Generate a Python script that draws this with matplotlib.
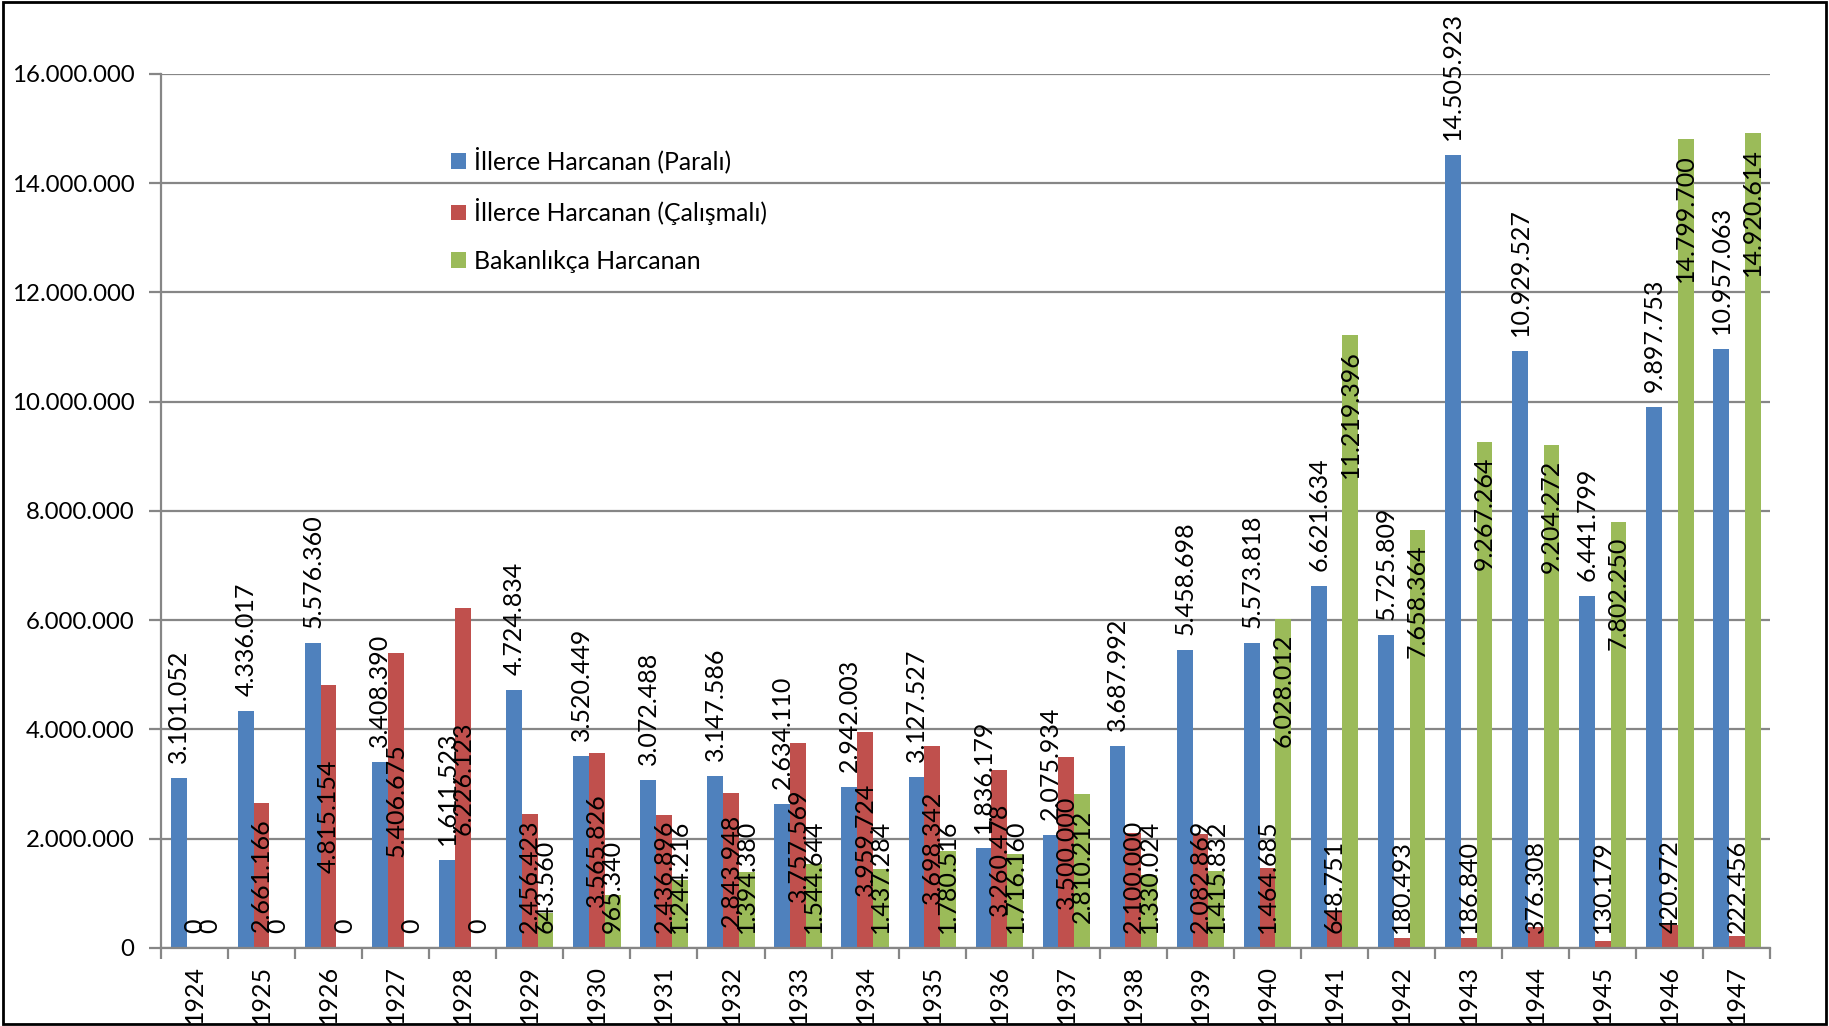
import matplotlib
matplotlib.use("Agg")
import matplotlib.pyplot as plt
import numpy as np
from matplotlib.ticker import FuncFormatter, MultipleLocator
from matplotlib.patches import Rectangle

years = ["1924", "1925", "1926", "1927", "1928", "1929", "1930", "1931", "1932", "1933",
         "1934", "1935", "1936", "1937", "1938", "1939", "1940", "1941", "1942", "1943",
         "1944", "1945", "1946", "1947"]
paralı = [3101052, 4336017, 5576360, 3408390, 1611523, 4724834, 3520449, 3072488, 3147586, 2634110,
          2942003, 3127527, 1836179, 2075934, 3687992, 5458698, 5573818, 6621634, 5725809, 14505923,
          10929527, 6441799, 9897753, 10957063]
calismali = [0, 2661166, 4815154, 5406675, 6226123, 2456423, 3565826, 2436896, 2843948, 3757569,
             3959724, 3698342, 3260478, 3500000, 2100000, 2082869, 1464685, 648751, 180493, 186840,
             376308, 130179, 420972, 222456]
bakanlik = [0, 0, 0, 0, 0, 643560, 965340, 1244216, 1394380, 1544644,
            1437284, 1780516, 1716160, 2810212, 1330024, 1415832, 6028012, 11219396, 7658364, 9267264,
            9204272, 7802250, 14799700, 14920614]
series_names = ["İllerce Harcanan (Paralı)", "İllerce Harcanan (Çalışmalı)", "Bakanlıkça Harcanan"]
colors = ["#4F81BD", "#C0504D", "#9BBB59"]
grid_c = "#868686"


def tr(v):
    return f"{int(round(v)):,}".replace(",", ".")


plt.rcParams['font.family'] = ['Lato', 'DejaVu Sans']
FS_LAB = 18.0
FS_TICK = 17.3
FS_YEAR = 18.0
FS_LEG = 17.9

fig = plt.figure(figsize=(18.29, 10.26), dpi=100)
ax = fig.add_axes([0.088, 0.0761, 0.880, 0.852])
x = np.arange(len(years))
w = 0.235
for i, (vals, c, name) in enumerate(zip([paralı, calismali, bakanlik], colors, series_names)):
    ax.bar(x + (i - 1) * w, vals, w, color=c, label=name, zorder=2)

ax.set_xlim(-0.5, len(years) - 0.5)
ax.set_ylim(0, 16e6)
ax.yaxis.set_major_locator(MultipleLocator(2e6))
ax.yaxis.set_major_formatter(FuncFormatter(lambda v, p: tr(v)))
ax.grid(axis='y', color=grid_c, lw=1.6, zorder=0)
ax.set_axisbelow(True)
ax.set_xticks(x)
ax.set_xticklabels(years, rotation=90)
ax.set_xticks(np.arange(-0.5, len(years)), minor=True)
ax.tick_params(axis='x', which='major', length=0, pad=12.5, labelsize=FS_YEAR)
ax.tick_params(axis='x', which='minor', length=8, color=grid_c, width=1.6)
ax.tick_params(axis='y', length=9, color=grid_c, width=1.6, pad=10, labelsize=FS_TICK)
for s in ['top', 'right']:
    ax.spines[s].set_visible(False)
for s in ['left', 'bottom']:
    ax.spines[s].set_color(grid_c)
    ax.spines[s].set_linewidth(1.6)

fig.legend(loc='upper left', bbox_to_anchor=(0.2465, 0.857), frameon=False,
           handlelength=0.6, handleheight=0.6, handletextpad=0.35, labelspacing=1.0,
           borderpad=0, borderaxespad=0, fontsize=FS_LEG)

# data labels
fig.canvas.draw()
renderer = fig.canvas.get_renderer()
dpp = 16e6 / ax.get_window_extent().height
gap = 15 * dpp
floor = 15 * dpp

for xi, v in zip(x - w, paralı):
    ax.text(xi, v + gap, tr(v), rotation=90, ha='center', va='bottom', fontsize=FS_LAB,
            clip_on=False, zorder=3)

for xi, v in zip(x, calismali):
    t = ax.text(xi, 0, tr(v), rotation=90, ha='center', va='bottom', fontsize=FS_LAB, zorder=3)
    L = t.get_window_extent(renderer).height * dpp
    t.set_y(max(v / 2 - L / 2, floor))

for xi, v in zip(x + w, bakanlik):
    t = ax.text(xi, 0, tr(v), rotation=90, ha='center', va='bottom', fontsize=FS_LAB, zorder=3)
    L = t.get_window_extent(renderer).height * dpp
    t.set_y(max(v - gap - L, floor))

fig.add_artist(Rectangle((0.0015, 0.002), 0.997, 0.996, transform=fig.transFigure,
                         fill=False, lw=2, edgecolor='black'))

fig.savefig("out.png", dpi=100)
